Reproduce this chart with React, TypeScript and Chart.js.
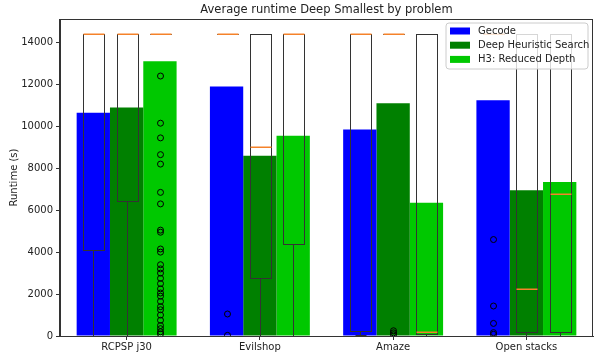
import React, { useEffect, useRef } from 'react';
import { Chart, registerables } from 'chart.js';

Chart.register(...registerables);

const categories = ['RCPSP j30', 'Evilshop', 'Amaze', 'Open stacks'];
const seriesNames = ['Gecode', 'Deep Heuristic Search', 'H3: Reduced Depth'];
const seriesColors = ['#0000ff', '#008000', '#00c800'];

// average runtime (bar heights)
const gecodeAvg = [10650, 11900, 9850, 11250];
const dhsAvg = [10900, 8600, 11100, 6950];
const h3Avg = [13100, 9550, 6350, 7350];

// box stats: [low whisker, q1, median, q3, high whisker]
const gecodeBox = [
  [0, 4100, 14400, 14400, 14400],
  [14400, 14400, 14400, 14400, 14400],
  [30, 250, 14400, 14400, 14400],
  [14400, 14400, 14400, 14400, 14400],
];
const dhsBox = [
  [0, 6450, 14400, 14400, 14400],
  [0, 2750, 9000, 14400, 14400],
  [14400, 14400, 14400, 14400, 14400],
  [20, 170, 2250, 14400, 14400],
];
const h3Box = [
  [14400, 14400, 14400, 14400, 14400],
  [0, 4400, 14400, 14400, 14400],
  [0, 100, 200, 14400, 14400],
  [20, 170, 6750, 14400, 14400],
];

// outliers
const gecodeOutliers = [[], [1050, 30], [], [4600, 1430, 600, 160, 80]];
const dhsOutliers = [[], [], [250, 150, 60], []];
const h3Outliers = [
  [12400, 10150, 9450, 8650, 8200, 6850, 6300, 5050, 4950, 4150, 4000, 3400, 3200, 3000, 2750, 2500, 2250, 2050, 1900, 1650, 1400, 1250, 1000, 750, 500, 350, 200, 100],
  [],
  [],
  [],
];

const yTicks = [0, 2000, 4000, 6000, 8000, 10000, 12000, 14000];
const yMax = 15120;

const chartTitle = 'Average runtime Deep Smallest by problem';
const yTitle = 'Runtime (s)';

const FONT = 'DejaVu Sans';
const TEXT = '#222222';
const LINE = '#333333';

const boxSeries = [gecodeBox, dhsBox, h3Box];
const outlierSeries = [gecodeOutliers, dhsOutliers, h3Outliers];

const overlayPlugin = {
  id: 'overlay',
  afterDatasetsDraw(chart: any) {
    const ctx = chart.ctx as CanvasRenderingContext2D;
    const ys = chart.scales.y;
    const area = chart.chartArea;
    const py = (v: number) => ys.getPixelForValue(v);
    const snap = (v: number) => Math.round(v) + 0.5;
    const line = (x1: number, y1: number, x2: number, y2: number) => {
      ctx.beginPath();
      ctx.moveTo(x1, y1);
      ctx.lineTo(x2, y2);
      ctx.stroke();
    };

    ctx.save();
    ctx.beginPath();
    ctx.rect(area.left, area.top, area.right - area.left, area.bottom - area.top);
    ctx.clip();
    boxSeries.forEach((boxes, di) => {
      const meta = chart.getDatasetMeta(di);
      meta.data.forEach((bar: any, ci: number) => {
        const [lo, q1, med, q3, hi] = boxes[ci];
        const cx = snap(bar.x);
        const bw = bar.width * 0.62;
        const half = bw / 2;
        const cap = bw / 4;
        const yq1 = snap(py(q1));
        const yq3 = snap(py(q3));
        const ylo = snap(py(lo));
        const yhi = snap(py(hi));
        const ymed = py(med);
        ctx.lineWidth = 1;
        ctx.strokeStyle = LINE;
        const xl = snap(cx - half);
        const xr = snap(cx + half);
        ctx.strokeRect(xl, yq3, xr - xl, yq1 - yq3);
        line(cx, yq1, cx, ylo);
        line(cx, yq3, cx, yhi);
        line(snap(cx - cap), ylo, snap(cx + cap), ylo);
        line(snap(cx - cap), yhi, snap(cx + cap), yhi);
        ctx.strokeStyle = '#f5822a';
        ctx.lineWidth = 1.5;
        line(xl, Math.round(ymed) + 0.25, xr, Math.round(ymed) + 0.25);
        ctx.lineWidth = 1;
        ctx.strokeStyle = '#000000';
        outlierSeries[di][ci].forEach((v) => {
          ctx.beginPath();
          ctx.arc(cx, py(v), 3, 0, Math.PI * 2);
          ctx.stroke();
        });
      });
    });
    ctx.restore();

    // frame (top and right spines)
    ctx.save();
    ctx.strokeStyle = LINE;
    ctx.lineWidth = 1;
    ctx.strokeRect(snap(area.left) - 1, snap(area.top), Math.round(area.right - area.left), Math.round(area.bottom - area.top));
    ctx.restore();

    // legend
    ctx.save();
    const lx = 446, ly = 23, lw = 142, lh = 46, r = 3;
    ctx.beginPath();
    ctx.moveTo(lx + r, ly);
    ctx.lineTo(lx + lw - r, ly);
    ctx.arcTo(lx + lw, ly, lx + lw, ly + r, r);
    ctx.lineTo(lx + lw, ly + lh - r);
    ctx.arcTo(lx + lw, ly + lh, lx + lw - r, ly + lh, r);
    ctx.lineTo(lx + r, ly + lh);
    ctx.arcTo(lx, ly + lh, lx, ly + lh - r, r);
    ctx.lineTo(lx, ly + r);
    ctx.arcTo(lx, ly, lx + r, ly, r);
    ctx.closePath();
    ctx.fillStyle = 'rgba(255,255,255,0.8)';
    ctx.fill();
    ctx.strokeStyle = '#cccccc';
    ctx.lineWidth = 1;
    ctx.stroke();
    ctx.font = `10px "${FONT}"`;
    ctx.textBaseline = 'middle';
    ctx.textAlign = 'left';
    seriesNames.forEach((name, i) => {
      const cy = 31 + i * 14.2;
      ctx.fillStyle = seriesColors[i];
      ctx.fillRect(450, cy - 3.5, 20, 7);
      ctx.fillStyle = TEXT;
      ctx.fillText(name, 478, cy + 0.5);
    });
    ctx.restore();

    // title
    ctx.save();
    ctx.font = `11.5px "${FONT}"`;
    ctx.fillStyle = TEXT;
    ctx.textAlign = 'center';
    ctx.textBaseline = 'middle';
    ctx.fillText(chartTitle, (area.left + area.right) / 2, 10.5);
    ctx.restore();
  },
};

export default function App() {
  const ref = useRef<HTMLCanvasElement>(null);
  useEffect(() => {
    if (!ref.current) return;
    const chart = new Chart(ref.current, {
      type: 'bar',
      data: {
        labels: categories,
        datasets: [
          { label: seriesNames[0], data: gecodeAvg, backgroundColor: seriesColors[0] },
          { label: seriesNames[1], data: dhsAvg, backgroundColor: seriesColors[1] },
          { label: seriesNames[2], data: h3Avg, backgroundColor: seriesColors[2] },
        ],
      },
      options: {
        responsive: false,
        animation: false,
        devicePixelRatio: 1,
        layout: { padding: { left: 0, right: 2, top: 19, bottom: 0 } },
        datasets: { bar: { categoryPercentage: 0.75, barPercentage: 1.0 } },
        plugins: {
          legend: { display: false },
          title: { display: false },
          tooltip: { enabled: false },
        },
        scales: {
          x: {
            type: 'category',
            offset: true,
            grid: { display: true, drawOnChartArea: false, drawTicks: true, tickLength: 4, offset: false, color: LINE },
            border: { display: true, color: LINE },
            ticks: { color: TEXT, font: { family: FONT, size: 10 }, padding: 1, maxRotation: 0, autoSkip: false },
            afterFit: (s: any) => { s.height = 20; },
          },
          y: {
            min: 0,
            max: yMax,
            grid: { display: true, drawOnChartArea: false, drawTicks: true, tickLength: 4, color: LINE },
            border: { display: true, color: LINE },
            ticks: { color: TEXT, font: { family: FONT, size: 10 }, padding: 3, callback: (v: any) => String(v) },
            afterBuildTicks: (s: any) => { s.ticks = yTicks.map((v) => ({ value: v })); },
            title: { display: true, text: yTitle, color: TEXT, font: { family: FONT, size: 10 }, padding: { top: 8, bottom: 0 } },
            afterFit: (s: any) => { s.width = 60; },
          },
        },
      },
      plugins: [overlayPlugin],
    } as any);
    return () => chart.destroy();
  }, []);
  return (
    <div style={{ position: 'absolute', left: 0, top: 0, width: 595, height: 356 }}>
      <canvas ref={ref} width={595} height={356} style={{ width: 595, height: 356 }} />
    </div>
  );
}
